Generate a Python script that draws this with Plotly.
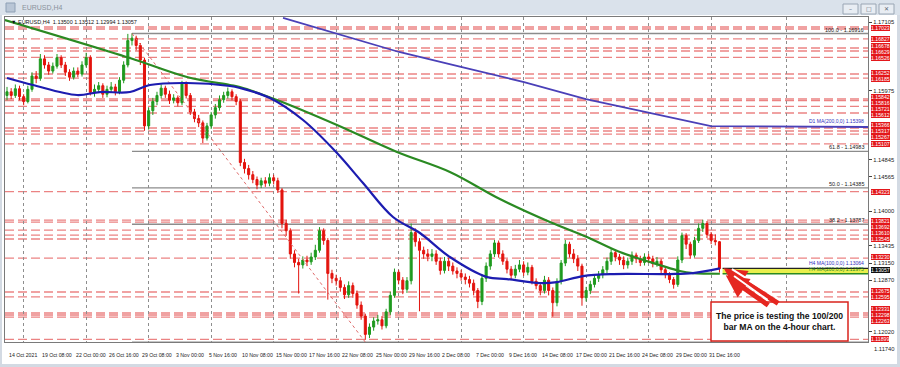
import plotly.graph_objects as go

# ---------------- data ----------------
time_labels = ['14 Oct 2021', '19 Oct 08:00', '22 Oct 00:00', '26 Oct 16:00', '29 Oct 08:00',
               '3 Nov 00:00', '5 Nov 16:00', '10 Nov 08:00', '15 Nov 00:00', '17 Nov 16:00',
               '22 Nov 08:00', '25 Nov 00:00', '29 Nov 16:00', '2 Dec 08:00', '7 Dec 00:00',
               '9 Dec 16:00', '14 Dec 08:00', '17 Dec 00:00', '21 Dec 16:00', '24 Dec 08:00',
               '29 Dec 00:00', '31 Dec 16:00']
label_bars = [0, 16, 32, 48, 64, 80, 96, 112, 128, 144, 160, 176, 192, 208, 224, 240,
              256, 272, 288, 304, 320, 336]
grid_bars = [8, 38, 68, 98, 128, 158, 188, 218, 248, 278, 308, 338, 374]

candle_bars = list(range(0, 344, 2))
opens = [1.1590, 1.1596, 1.1590, 1.1601, 1.1588, 1.1580, 1.1600, 1.1622, 1.1618, 1.1650,
         1.1640, 1.1630, 1.1638, 1.1652, 1.1640, 1.1628, 1.1620, 1.1630, 1.1625, 1.1640,
         1.1652, 1.1595, 1.1600, 1.1606, 1.1592, 1.1600, 1.1604, 1.1596, 1.1615, 1.1640,
         1.1680, 1.1684, 1.1672, 1.1648, 1.1540, 1.1565, 1.1580, 1.1590, 1.1602, 1.1592,
         1.1582, 1.1586, 1.1578, 1.1610, 1.1590, 1.1563, 1.1552, 1.1545, 1.1520, 1.1540,
         1.1558, 1.1570, 1.1583, 1.1590, 1.1596, 1.1588, 1.1580, 1.1480, 1.1470, 1.1460,
         1.1452, 1.1443, 1.1450, 1.1446, 1.1455, 1.1450, 1.1435, 1.1380, 1.1368, 1.1330,
         1.1316, 1.1312, 1.1320, 1.1317, 1.1325, 1.1336, 1.1368, 1.1352, 1.1298, 1.1290,
         1.1286, 1.1275, 1.1263, 1.1278, 1.1265, 1.1246, 1.1228, 1.1198, 1.1210, 1.1220,
         1.1222, 1.1212, 1.1235, 1.1262, 1.1300, 1.1287, 1.1272, 1.1286, 1.1365, 1.1350,
         1.1336, 1.1330, 1.1326, 1.1330, 1.1318, 1.1303, 1.1318, 1.1310, 1.1302, 1.1298,
         1.1292, 1.1288, 1.1282, 1.1270, 1.1252, 1.1290, 1.1310, 1.1330, 1.1348, 1.1330,
         1.1318, 1.1305, 1.1295, 1.1305, 1.1312, 1.1300, 1.1308, 1.1285, 1.1278, 1.1270,
         1.1287, 1.1270, 1.1250, 1.1285, 1.1315, 1.1346, 1.1330, 1.1322, 1.1310, 1.1258,
         1.1270, 1.1280, 1.1290, 1.1296, 1.1304, 1.1318, 1.1332, 1.1325, 1.1320, 1.1312,
         1.1318, 1.1328, 1.1322, 1.1316, 1.1325, 1.1322, 1.1314, 1.1318, 1.1304, 1.1296,
         1.1288, 1.1280, 1.1320, 1.1360, 1.1346, 1.1328, 1.1352, 1.1372, 1.1380, 1.1362,
         1.1352, 1.13500]
highs = [1.1604, 1.1602, 1.1608, 1.1606, 1.1592, 1.1606, 1.1628, 1.1630, 1.1658, 1.1656,
         1.1645, 1.1644, 1.1658, 1.1656, 1.1645, 1.1633, 1.1636, 1.1636, 1.1646, 1.1660,
         1.1656, 1.1608, 1.1612, 1.1610, 1.1606, 1.1612, 1.1609, 1.1620, 1.1646, 1.1691,
         1.1692, 1.1688, 1.1676, 1.1652, 1.1570, 1.1586, 1.1596, 1.1608, 1.1606, 1.1598,
         1.1592, 1.1590, 1.1614, 1.1613, 1.1594, 1.1568, 1.1558, 1.1549, 1.1545, 1.1563,
         1.1576, 1.1590, 1.1596, 1.1603, 1.1600, 1.1592, 1.1584, 1.1486, 1.1476, 1.1466,
         1.1457, 1.1455, 1.1456, 1.1462, 1.1460, 1.1455, 1.1438, 1.1386, 1.1372, 1.1336,
         1.1322, 1.1326, 1.1327, 1.1332, 1.1345, 1.1374, 1.1372, 1.1356, 1.1304, 1.1296,
         1.1292, 1.1280, 1.1285, 1.1283, 1.1270, 1.1252, 1.1232, 1.1216, 1.1226, 1.1230,
         1.1228, 1.1240, 1.1268, 1.1306, 1.1304, 1.1292, 1.1292, 1.1380, 1.1372, 1.1356,
         1.1342, 1.1338, 1.1338, 1.1336, 1.1324, 1.1325, 1.1324, 1.1316, 1.1308, 1.1304,
         1.1298, 1.1294, 1.1288, 1.1274, 1.1296, 1.1316, 1.1336, 1.1353, 1.1352, 1.1336,
         1.1322, 1.1310, 1.1312, 1.1320, 1.1318, 1.1316, 1.1312, 1.1290, 1.1284, 1.1294,
         1.1292, 1.1275, 1.1290, 1.1320, 1.1353, 1.1350, 1.1338, 1.1328, 1.1314, 1.1276,
         1.1286, 1.1296, 1.1302, 1.1310, 1.1324, 1.1338, 1.1336, 1.1330, 1.1326, 1.1324,
         1.1334, 1.1332, 1.1327, 1.1331, 1.1330, 1.1327, 1.1325, 1.1322, 1.1309, 1.1300,
         1.1292, 1.1326, 1.1365, 1.1364, 1.1350, 1.1358, 1.1380, 1.1386, 1.1384, 1.1366,
         1.1362, 1.13512]
lows = [1.1582, 1.1584, 1.1586, 1.1582, 1.1574, 1.1577, 1.1596, 1.1610, 1.1614, 1.1634,
        1.1624, 1.1626, 1.1634, 1.1635, 1.1622, 1.1614, 1.1616, 1.1620, 1.1621, 1.1636,
        1.1590, 1.1588, 1.1594, 1.1586, 1.1587, 1.1594, 1.1590, 1.1592, 1.1610, 1.1636,
        1.1672, 1.1664, 1.1640, 1.1532, 1.1534, 1.1558, 1.1574, 1.1585, 1.1586, 1.1576,
        1.1577, 1.1572, 1.1574, 1.1585, 1.1558, 1.1546, 1.1538, 1.1512, 1.1516, 1.1535,
        1.1552, 1.1565, 1.1578, 1.1585, 1.1582, 1.1574, 1.1474, 1.1462, 1.1452, 1.1446,
        1.1436, 1.1438, 1.1440, 1.1441, 1.1444, 1.1430, 1.1372, 1.1360, 1.1322, 1.1308,
        1.1265, 1.1306, 1.1310, 1.1312, 1.1320, 1.1332, 1.1345, 1.1255, 1.1282, 1.1278,
        1.1268, 1.1256, 1.1258, 1.1258, 1.1240, 1.1222, 1.1189, 1.1192, 1.1204, 1.1214,
        1.1206, 1.1208, 1.1230, 1.1258, 1.1280, 1.1264, 1.1266, 1.1280, 1.1342, 1.1236,
        1.1322, 1.1318, 1.1318, 1.1312, 1.1296, 1.1298, 1.1302, 1.1296, 1.1290, 1.1286,
        1.1280, 1.1275, 1.1262, 1.1241, 1.1246, 1.1284, 1.1304, 1.1325, 1.1324, 1.1312,
        1.1298, 1.1288, 1.1290, 1.1300, 1.1294, 1.1295, 1.1280, 1.1272, 1.1262, 1.1265,
        1.1262, 1.1227, 1.1244, 1.1280, 1.1310, 1.1324, 1.1315, 1.1302, 1.1245, 1.1252,
        1.1264, 1.1275, 1.1284, 1.1290, 1.1298, 1.1312, 1.1318, 1.1312, 1.1305, 1.1306,
        1.1312, 1.1315, 1.1310, 1.1311, 1.1315, 1.1308, 1.1309, 1.1298, 1.1290, 1.1282,
        1.1273, 1.1276, 1.1315, 1.1338, 1.1322, 1.1324, 1.1348, 1.1366, 1.1356, 1.1346,
        1.1344, 1.12994]
closes = [1.1596, 1.1590, 1.1601, 1.1588, 1.1580, 1.1600, 1.1622, 1.1618, 1.1650, 1.1640,
          1.1630, 1.1638, 1.1652, 1.1640, 1.1628, 1.1620, 1.1630, 1.1625, 1.1640, 1.1652,
          1.1595, 1.1600, 1.1606, 1.1592, 1.1600, 1.1604, 1.1596, 1.1615, 1.1640, 1.1680,
          1.1684, 1.1672, 1.1648, 1.1540, 1.1565, 1.1580, 1.1590, 1.1602, 1.1592, 1.1582,
          1.1586, 1.1578, 1.1610, 1.1590, 1.1563, 1.1552, 1.1545, 1.1520, 1.1540, 1.1558,
          1.1570, 1.1583, 1.1590, 1.1596, 1.1588, 1.1580, 1.1480, 1.1470, 1.1460, 1.1452,
          1.1443, 1.1450, 1.1446, 1.1455, 1.1450, 1.1435, 1.1380, 1.1368, 1.1330, 1.1316,
          1.1312, 1.1320, 1.1317, 1.1325, 1.1336, 1.1368, 1.1352, 1.1298, 1.1290, 1.1286,
          1.1275, 1.1263, 1.1278, 1.1265, 1.1246, 1.1228, 1.1198, 1.1210, 1.1220, 1.1222,
          1.1212, 1.1235, 1.1262, 1.1300, 1.1287, 1.1272, 1.1286, 1.1365, 1.1350, 1.1336,
          1.1330, 1.1326, 1.1330, 1.1318, 1.1303, 1.1318, 1.1310, 1.1302, 1.1298, 1.1292,
          1.1288, 1.1282, 1.1270, 1.1252, 1.1290, 1.1310, 1.1330, 1.1348, 1.1330, 1.1318,
          1.1305, 1.1295, 1.1305, 1.1312, 1.1300, 1.1308, 1.1285, 1.1278, 1.1270, 1.1287,
          1.1270, 1.1250, 1.1285, 1.1315, 1.1346, 1.1330, 1.1322, 1.1310, 1.1258, 1.1270,
          1.1280, 1.1290, 1.1296, 1.1304, 1.1318, 1.1332, 1.1325, 1.1320, 1.1312, 1.1318,
          1.1328, 1.1322, 1.1316, 1.1325, 1.1322, 1.1314, 1.1318, 1.1304, 1.1296, 1.1288,
          1.1280, 1.1320, 1.1360, 1.1346, 1.1328, 1.1352, 1.1372, 1.1380, 1.1362, 1.1352,
          1.1350, 1.13057]

ma200_bars = [-1, 59, 86.4, 107, 111.8, 129.6, 158.4, 187.2, 212.6, 236.6, 260.6, 278.4,
              294.2, 313.4, 323, 329.3, 342.2]
ma200 = [1.17138, 1.16514, 1.16202, 1.16071, 1.16038, 1.15825, 1.15415, 1.14972, 1.14644,
         1.14200, 1.13823, 1.13577, 1.13331, 1.13117, 1.13019, 1.12986, 1.12975]
ma100_bars = [0, 12.5, 33.6, 44.6, 59, 68.6, 86.4, 107, 111.8, 126.2, 142.1, 158.4, 170.9,
              185.3, 198.2, 212.6, 230.4, 240, 255.8, 264, 276.5, 290.9, 318.2, 329.3, 342.2]
ma100 = [1.16186, 1.16071, 1.15907, 1.15956, 1.15956, 1.16071, 1.16104, 1.16055, 1.16022,
         1.15858, 1.15497, 1.14956, 1.14463, 1.13906, 1.13643, 1.13249, 1.12921, 1.12888,
         1.12822, 1.12838, 1.12937, 1.12970, 1.12970, 1.12986, 1.13064]
d1ma_bars = [132.5, 140.6, 157.9, 188.2, 217.9, 248.2, 277.9, 308.2, 337.9, 414]
d1ma = [1.17171, 1.17089, 1.16924, 1.16613, 1.16367, 1.16120, 1.15841, 1.15612, 1.15398, 1.15382]

red_levels = [1.17023, 1.16990, 1.16827, 1.16678, 1.16629, 1.16526, 1.16252, 1.16185,
              1.15842, 1.15816, 1.15721, 1.15612, 1.15366, 1.15317, 1.15267, 1.15107,
              1.14323, 1.13856, 1.13821, 1.13692, 1.13610, 1.13545, 1.13230, 1.12675,
              1.12595, 1.12331, 1.12298, 1.12263, 1.11899]
# levels drawn as doubled lines carry one price box only
red_label_levels = [1.17023, 1.16827, 1.16678, 1.16629, 1.16526, 1.16252, 1.16185,
                    1.15842, 1.15816, 1.15721, 1.15612, 1.15366, 1.15317, 1.15267, 1.15107,
                    1.14323, 1.13821, 1.13692, 1.13610, 1.13545, 1.13230, 1.12675,
                    1.12595, 1.12331, 1.12298, 1.12263, 1.11899]

fib_names = ['100.0', '61.8', '50.0', '38.2', '0']
fib_values = [1.16916, 1.14983, 1.14385, 1.13787, 1.11853]
fib_start_bar = 60
trend_bars = [60, 172]
trend_prices = [1.16916, 1.11853]

axis_ticks = [1.17105, 1.15975, 1.14845, 1.14565, 1.14000, 1.13435, 1.13150, 1.12870, 1.12020]
bottom_tick = 1.11740
last_price = 1.13057
ma100_last, ma200_last = 1.13064, 1.12975
d1_last = 1.15398
info_text = 'EURUSD,H4  1.13500 1.13512 1.12994 1.13057'
note_text = '<b>The price is testing the 100/200<br>bar MA on the 4-hour chart.</b>'

# ---------------- geometry helpers (pixel -> paper) ----------------
PX_L, PX_R, PX_T, PX_B = 5, 868, 17, 342
def pxx(px):
    return (px - PX_L) / (PX_R - PX_L)
def pxy(py):
    return (PX_B - py) / (PX_B - PX_T)

X_RANGE = [-0.96, 413.3]
Y_RANGE = [1.11855, 1.17187]
FONT = 'Liberation Sans'

def price_to_py(p):
    return PX_B - (p - Y_RANGE[0]) / (Y_RANGE[1] - Y_RANGE[0]) * (PX_B - PX_T)

fig = go.Figure()

fig.add_trace(go.Candlestick(
    x=candle_bars, open=opens, high=highs, low=lows, close=closes,
    increasing=dict(line=dict(color='#1f9a1f', width=1), fillcolor='#1f9a1f'),
    decreasing=dict(line=dict(color='#e3140e', width=1), fillcolor='#e3140e'),
    whiskerwidth=0, showlegend=False, hoverinfo='skip'))

fig.add_trace(go.Scatter(x=trend_bars, y=trend_prices, mode='lines',
                         line=dict(color='#e06a6a', width=1, dash='dot'),
                         showlegend=False, hoverinfo='skip'))
fig.add_trace(go.Scatter(x=d1ma_bars, y=d1ma, mode='lines',
                         line=dict(color='#4a40b8', width=1.8),
                         showlegend=False, hoverinfo='skip'))
fig.add_trace(go.Scatter(x=ma200_bars, y=ma200, mode='lines', line_shape='spline',
                         line=dict(color='#2a8a22', width=2.2),
                         showlegend=False, hoverinfo='skip'))
fig.add_trace(go.Scatter(x=ma100_bars, y=ma100, mode='lines', line_shape='spline',
                         line=dict(color='#1c1cb0', width=2.2),
                         showlegend=False, hoverinfo='skip'))

shapes = []
shapes.append(dict(type='rect', xref='paper', yref='paper', layer='below',
                   x0=pxx(2), x1=pxx(897), y0=pxy(364), y1=pxy(15),
                   fillcolor='white', line=dict(width=0)))
for lv in red_levels:
    shapes.append(dict(type='line', xref='paper', yref='y', layer='below',
                       x0=0, x1=1, y0=lv, y1=lv,
                       line=dict(color='rgba(228,90,90,0.75)', width=1.3, dash='9px,4px')))
for fv in fib_values:
    shapes.append(dict(type='line', xref='x', yref='y', layer='below',
                       x0=fib_start_bar, x1=X_RANGE[1], y0=fv, y1=fv,
                       line=dict(color='#8c8c8c', width=1.3)))
shapes.append(dict(type='rect', xref='x', yref='y', layer='above',
                   x0=343.5, x1=X_RANGE[1], y0=ma200_last, y1=ma100_last,
                   fillcolor='#e9ef4c', line=dict(width=0)))
shapes.append(dict(type='line', xref='x', yref='y', x0=343.5, x1=X_RANGE[1],
                   y0=ma100_last, y1=ma100_last, line=dict(color='#222222', width=1.2)))
shapes.append(dict(type='line', xref='x', yref='y', x0=343.5, x1=X_RANGE[1],
                   y0=ma200_last, y1=ma200_last, line=dict(color='#2a8a22', width=1.5)))
shapes.append(dict(type='rect', xref='paper', yref='paper',
                   x0=pxx(711), x1=pxx(848), y0=pxy(341), y1=pxy(302),
                   fillcolor='white', line=dict(color='#d9231d', width=1.5)))
shapes.append(dict(type='rect', xref='paper', yref='paper', layer='below',
                   x0=pxx(0), x1=pxx(900), y0=pxy(15), y1=pxy(0),
                   fillcolor='#dae2eb', line=dict(width=0)))
shapes.append(dict(type='rect', xref='paper', yref='paper',
                   x0=pxx(6), x1=pxx(15), y0=pxy(12), y1=pxy(3),
                   fillcolor='#b9c6d6', line=dict(color='#8ea0b5', width=1)))
for bx in (843, 861, 879):
    shapes.append(dict(type='rect', xref='paper', yref='paper',
                       x0=pxx(bx), x1=pxx(bx + 15), y0=pxy(14), y1=pxy(4),
                       fillcolor='#e8edf3', line=dict(color='#9aa6b4', width=1)))

ann = []
for glyph, bx in zip(['–', '□', '✕'], (843, 861, 879)):
    ann.append(dict(x=pxx(bx + 7.5), y=pxy(9), xref='paper', yref='paper', text=glyph,
                    showarrow=False, xanchor='center', yanchor='middle',
                    font=dict(size=6, color='#5a6572', family='DejaVu Sans')))
for lab, b in zip(time_labels, label_bars):
    ann.append(dict(x=b, y=pxy(355), xref='x', yref='paper', text=lab, showarrow=False,
                    xanchor='left', yanchor='middle', font=dict(size=5.2, color='#222', family=FONT)))
for nm, fv in zip(fib_names, fib_values):
    ann.append(dict(x=pxx(866), y=fv, xref='paper', yref='y', text=f'{nm} - {fv:.5f}',
                    showarrow=False, xanchor='right', yanchor='bottom', yshift=-1,
                    font=dict(size=5.5, color='#222', family=FONT)))

# --- price boxes on the right scale: spread them so they do not collide with
#     each other or with the scale's own tick labels (as the terminal does)
box_items = [(lv, '#e3171b') for lv in red_label_levels] + [(last_price, '#111111')]
box_items.sort(key=lambda t: -t[0])
true_py = [price_to_py(p) for p, _ in box_items]
pos = list(true_py)
tick_py = [price_to_py(t) for t in axis_ticks] + [349.0]
GAP, TGAP = 6.1, 6.5
for _ in range(400):
    for i in range(len(pos) - 1):
        d = pos[i + 1] - pos[i]
        if d < GAP:
            s = (GAP - d) / 2
            pos[i] -= s
            pos[i + 1] += s
    for i in range(len(pos)):
        for t in tick_py:
            d = pos[i] - t
            if abs(d) < TGAP:
                pos[i] = t + (TGAP if d >= 0 else -TGAP)
    for i in range(len(pos)):
        pos[i] += 0.03 * (true_py[i] - pos[i])
for (p, col), py in zip(box_items, pos):
    ann.append(dict(x=pxx(870.5), y=pxy(py), xref='paper', yref='paper', text=f'{p:.5f}',
                    showarrow=False, xanchor='left', yanchor='middle', bgcolor=col,
                    borderpad=0, borderwidth=0, font=dict(size=5.2, color='white', family=FONT)))

ann.append(dict(x=pxx(872), y=pxy(349), xref='paper', yref='paper', text=f'{bottom_tick:.5f}',
                showarrow=False, xanchor='left', yanchor='middle',
                font=dict(size=5.8, color='#222', family=FONT)))
ann.append(dict(x=pxx(866), y=ma100_last, xref='paper', yref='y',
                text=f'H4 MA(100,0,0) {ma100_last:.5f}', showarrow=False,
                xanchor='right', yanchor='bottom', font=dict(size=5, color='#3030c0', family=FONT)))
ann.append(dict(x=pxx(866), y=ma200_last, xref='paper', yref='y',
                text=f'H4 MA(200,0,0) {ma200_last:.5f}', showarrow=False,
                xanchor='right', yanchor='bottom', font=dict(size=5, color='#2a8a22', family=FONT)))
ann.append(dict(x=pxx(866), y=d1_last, xref='paper', yref='y',
                text=f'D1 MA(200,0,0) {d1_last:.5f}', showarrow=False,
                xanchor='right', yanchor='bottom', font=dict(size=5, color='#3030c0', family=FONT)))
ann.append(dict(x=pxx(9), y=pxy(22), xref='paper', yref='paper', text='▼ ' + info_text,
                showarrow=False, xanchor='left', yanchor='middle',
                font=dict(size=5.5, color='#111', family=FONT)))
ann.append(dict(x=pxx(20), y=pxy(7.5), xref='paper', yref='paper', text='EURUSD,H4',
                showarrow=False, xanchor='left', yanchor='middle',
                font=dict(size=7, color='#8a929c', family=FONT)))
ann.append(dict(x=pxx(779.5), y=pxy(321.5), xref='paper', yref='paper', text=note_text,
                showarrow=False, xanchor='center', yanchor='middle',
                font=dict(size=8.6, color='#111', family=FONT)))
for tipx, tipy, ax, ay in [(344, 1.13064, 56, 36), (345, 1.12950, 44, 31)]:
    ann.append(dict(x=tipx, y=tipy, xref='x', yref='y', ax=ax, ay=ay, text='', showarrow=True,
                    arrowhead=2, arrowsize=0.9, arrowwidth=5, arrowcolor='#e52620'))
    ann.append(dict(x=tipx + 4, y=tipy - 0.00012, xref='x', yref='y', ax=ax - 9, ay=ay - 6,
                    text='', showarrow=True, arrowhead=0, arrowwidth=2, arrowcolor='#ffffff'))

fig.update_layout(
    width=900, height=367,
    margin=dict(l=PX_L, r=900 - PX_R, t=PX_T, b=367 - PX_B),
    paper_bgcolor='#d3dae3', plot_bgcolor='white',
    shapes=shapes, annotations=ann, showlegend=False,
    font=dict(family=FONT),
    xaxis=dict(range=X_RANGE, rangeslider=dict(visible=False), tickvals=grid_bars,
               ticktext=[''] * len(grid_bars), showgrid=True, gridcolor='#8e8e8e',
               griddash='dot', gridwidth=1, zeroline=False, showline=True,
               linecolor='#7a7a7a', mirror=True, ticks=''),
    yaxis=dict(range=Y_RANGE, side='right', tickvals=axis_ticks,
               ticktext=[f'{t:.5f}' for t in axis_ticks], showgrid=False, zeroline=False,
               showline=True, linecolor='#7a7a7a', mirror=True, ticks='outside', ticklen=3,
               tickcolor='#444', tickfont=dict(size=5.8, color='#222', family=FONT)),
)

fig.write_html('out.html')
